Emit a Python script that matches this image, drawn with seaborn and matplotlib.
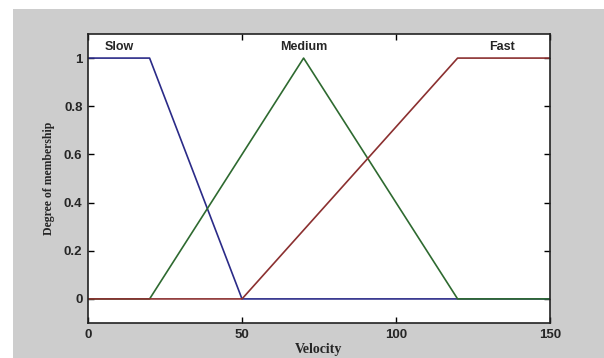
import matplotlib
matplotlib.use("Agg")
import matplotlib.pyplot as plt
import seaborn as sns
import pandas as pd
from matplotlib.patches import Rectangle

# Data: membership functions sampled at breakpoints
velocity = [0, 20, 50, 70, 120, 150]
slow = [1, 1, 0, 0, 0, 0]
medium = [0, 0, 0.6, 1, 0, 0]
fast = [0, 0, 0, 2/7, 1, 1]
series_names = ["Slow", "Medium", "Fast"]
label_x = [10, 70, 134.5]
x_ticks = [0, 50, 100, 150]
y_ticks = [0, 0.2, 0.4, 0.6, 0.8, 1]
y_tick_labels = ["0", "0.2", "0.4", "0.6", "0.8", "1"]

rows = []
for name, vals in zip(series_names, [slow, medium, fast]):
    for x, y in zip(velocity, vals):
        rows.append({"Velocity": x, "Degree": y, "MF": name})
df = pd.DataFrame(rows)

sns.set_style("white")
plt.rcParams["font.family"] = ["Liberation Sans", "DejaVu Sans"]

fig = plt.figure(figsize=(6.04, 3.58), dpi=100)
fig.patch.set_facecolor("white")
fig.patches.append(Rectangle((13 / 604, 0), 1, 1 - 9 / 358, transform=fig.transFigure,
                             facecolor="#cdcdcd", edgecolor="none", zorder=-10))
ax = fig.add_axes([88 / 604, (358 - 323) / 358, (550 - 88) / 604, (323 - 34) / 358])
ax.set_facecolor("white")

palette = {"Slow": "#2b2b88", "Medium": "#2e6a30", "Fast": "#8b3030"}
sns.lineplot(data=df, x="Velocity", y="Degree", hue="MF", palette=palette,
             linewidth=1.2, legend=False, ax=ax, sort=False, estimator=None)

ax.set_xlim(0, 150)
ax.set_ylim(-0.1, 1.1)
ax.set_xticks(x_ticks)
ax.set_xticklabels([str(t) for t in x_ticks], fontsize=9.5, fontweight="bold")
ax.set_yticks(y_ticks)
ax.set_yticklabels(y_tick_labels, fontsize=9.5, fontweight="bold")
ax.tick_params(direction="in", length=4, width=1, top=True, right=True,
               bottom=True, left=True, color="black", pad=4)
for s in ax.spines.values():
    s.set_color("#222222")
    s.set_linewidth(1.2)

for name, lx in zip(series_names, label_x):
    ax.text(lx, 1.045, name, ha="center", va="center", fontsize=9, fontweight="bold")

ax.set_xlabel("Velocity", fontsize=10, fontweight="bold",
              family=["Liberation Serif", "DejaVu Serif"], labelpad=2)
ax.set_ylabel("Degree of membership", fontsize=8.5, fontweight="bold",
              family=["Liberation Serif", "DejaVu Serif"], labelpad=6)

fig.savefig("out.png", dpi=100)
